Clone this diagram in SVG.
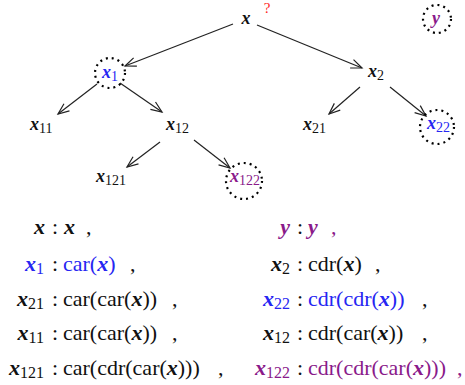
<svg xmlns="http://www.w3.org/2000/svg" width="465" height="385" viewBox="0 0 465 385">
<style>
.v{font-family:"Liberation Serif",serif;font-style:italic;font-weight:bold;font-size:18px;fill:#111}
.s{font-style:normal;font-weight:normal;font-size:14px}
.t{font-family:"Liberation Serif",serif;font-size:22px;fill:#111}
.t .i{font-style:italic;font-weight:bold}
.t .u{font-size:16px}
.blue{fill:#2626f2}
.pur{fill:#8a1a8a}
.dot{fill:none;stroke:#000;stroke-width:2.2;stroke-dasharray:2 4}
.e{stroke:#222;stroke-width:1.2;fill:none;marker-end:url(#ah)}
</style>
<defs>
<marker id="ah" markerUnits="userSpaceOnUse" markerWidth="14" markerHeight="12" refX="0" refY="0" viewBox="-12 -6 14 12" orient="auto" overflow="visible">
<path d="M-11,-4.5 L0,0 L-11,4.5" fill="none" stroke="#222" stroke-width="1.2"/>
</marker>
</defs>
<rect width="465" height="385" fill="#fff"/>
<g id="connectors">
<path class="e" d="M233,24 L125,66"/>
<path class="e" d="M257,25 L362,68"/>
<path class="e" d="M97,84 L58,114"/>
<path class="e" d="M120,83 L162,112"/>
<path class="e" d="M360,87 L329,114"/>
<path class="e" d="M390,87 L426,116"/>
<path class="e" d="M160,142 L127,167"/>
<path class="e" d="M194,140 L230,168"/>
</g>
<g id="n-x"><text class="v" x="246" y="24" text-anchor="middle">x</text><text x="267" y="13" text-anchor="middle" font-family="Liberation Serif,serif" font-size="15" fill="#ff2424">?</text></g>
<g id="n-y"><circle class="dot" cx="437" cy="19" r="14"/><text class="v pur" x="436" y="24" text-anchor="middle">y</text></g>
<g id="n-x1"><circle class="dot" cx="110" cy="73" r="15"/><text class="v blue" x="102" y="78">x<tspan class="s" dy="3">1</tspan></text></g>
<g id="n-x2"><text class="v" x="368" y="77">x<tspan class="s" dy="3">2</tspan></text></g>
<g id="n-x11"><text class="v" x="30" y="130">x<tspan class="s" dy="3">11</tspan></text></g>
<g id="n-x12"><text class="v" x="166" y="130">x<tspan class="s" dy="3">12</tspan></text></g>
<g id="n-x21"><text class="v" x="303" y="130">x<tspan class="s" dy="3">21</tspan></text></g>
<g id="n-x22"><circle class="dot" cx="437" cy="127" r="17"/><text class="v blue" x="427" y="129">x<tspan class="s" dy="3">22</tspan></text></g>
<g id="n-x121"><text class="v" x="96" y="182">x<tspan class="s" dy="3">121</tspan></text></g>
<g id="n-x122"><circle class="dot" cx="244" cy="181" r="18"/><text class="v pur" x="230" y="182">x<tspan class="s" dy="3">122</tspan></text></g>
<g id="table">
<text class="t" x="45" y="234" text-anchor="end"><tspan class="i">x</tspan></text>
<text class="t" x="55" y="234" text-anchor="middle">:</text>
<text class="t" x="64" y="234"><tspan class="i">x</tspan></text>
<text class="t" x="86" y="234">,</text>
<text class="t blue" x="44" y="271" text-anchor="end"><tspan class="i">x</tspan><tspan class="u" dy="3">1</tspan></text>
<text class="t" x="55" y="271" text-anchor="middle">:</text>
<text class="t blue" x="63" y="271">car(<tspan class="i">x</tspan>)</text>
<text class="t" x="130" y="271">,</text>
<text class="t" x="44" y="306" text-anchor="end"><tspan class="i">x</tspan><tspan class="u" dy="3">21</tspan></text>
<text class="t" x="55" y="306" text-anchor="middle">:</text>
<text class="t" x="63" y="306">car(car(<tspan class="i">x</tspan>))</text>
<text class="t" x="172" y="306">,</text>
<text class="t" x="44" y="340" text-anchor="end"><tspan class="i">x</tspan><tspan class="u" dy="3">11</tspan></text>
<text class="t" x="55" y="340" text-anchor="middle">:</text>
<text class="t" x="63" y="340">car(car(<tspan class="i">x</tspan>))</text>
<text class="t" x="172" y="340">,</text>
<text class="t" x="44" y="375" text-anchor="end"><tspan class="i">x</tspan><tspan class="u" dy="3">121</tspan></text>
<text class="t" x="55" y="375" text-anchor="middle">:</text>
<text class="t" x="63" y="375">car(cdr(car(<tspan class="i">x</tspan>)))</text>
<text class="t" x="218" y="375">,</text>
<text class="t pur" x="290" y="234" text-anchor="end"><tspan class="i">y</tspan></text>
<text class="t" x="300" y="234" text-anchor="middle">:</text>
<text class="t pur" x="308" y="234"><tspan class="i">y</tspan></text>
<text class="t pur" x="331" y="234">,</text>
<text class="t" x="290" y="271" text-anchor="end"><tspan class="i">x</tspan><tspan class="u" dy="3">2</tspan></text>
<text class="t" x="300" y="271" text-anchor="middle">:</text>
<text class="t" x="308" y="271">cdr(<tspan class="i">x</tspan>)</text>
<text class="t" x="375" y="271">,</text>
<text class="t blue" x="290" y="306" text-anchor="end"><tspan class="i">x</tspan><tspan class="u" dy="3">22</tspan></text>
<text class="t" x="300" y="306" text-anchor="middle">:</text>
<text class="t blue" x="308" y="306">cdr(cdr(<tspan class="i">x</tspan>))</text>
<text class="t" x="422" y="306">,</text>
<text class="t" x="290" y="340" text-anchor="end"><tspan class="i">x</tspan><tspan class="u" dy="3">12</tspan></text>
<text class="t" x="300" y="340" text-anchor="middle">:</text>
<text class="t" x="308" y="340">cdr(car(<tspan class="i">x</tspan>))</text>
<text class="t" x="422" y="340">,</text>
<text class="t pur" x="290" y="375" text-anchor="end"><tspan class="i">x</tspan><tspan class="u" dy="3">122</tspan></text>
<text class="t" x="300" y="375" text-anchor="middle">:</text>
<text class="t pur" x="308" y="375">cdr(cdr(car(<tspan class="i">x</tspan>)))</text>
<text class="t pur" x="457" y="375">,</text>
</g>
</svg>
